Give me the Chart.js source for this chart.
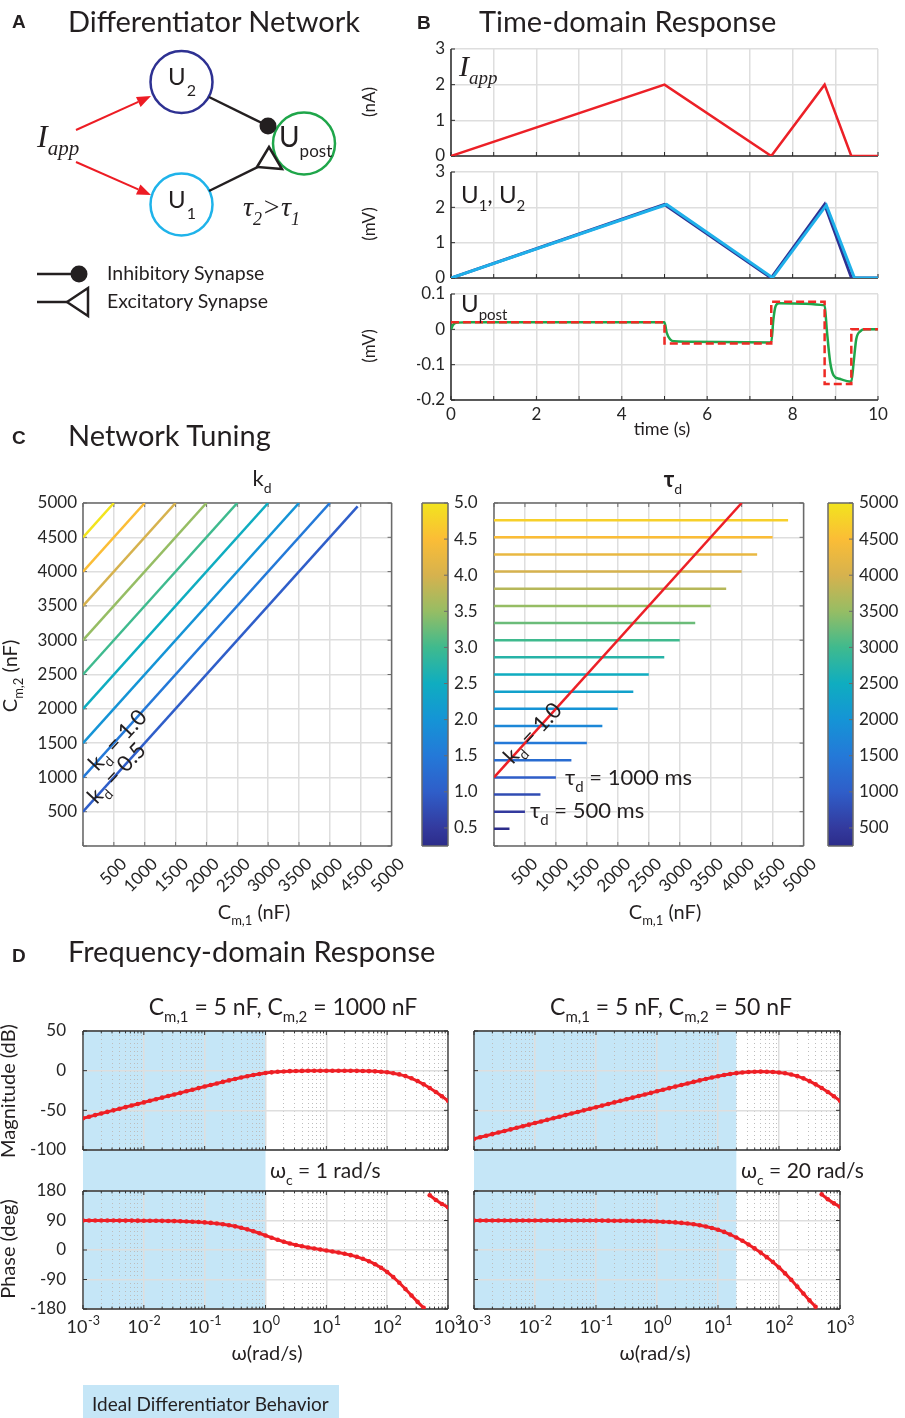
<!DOCTYPE html>
<html><head><meta charset="utf-8">
<script src="https://cdn.jsdelivr.net/npm/chart.js@4.4.1/dist/chart.umd.min.js"></script>
<style>
html,body{margin:0;padding:0;background:#fff;}
#page{position:relative;width:905px;height:1418px;overflow:hidden;background:#fff;}
#page canvas{position:absolute;}
#ov{position:absolute;left:0;top:0;pointer-events:none;}
</style></head><body>
<div id="page">
<svg id="ov" width="905" height="1418" xmlns="http://www.w3.org/2000/svg" font-family="Lato, 'Open Sans', sans-serif" fill="#231f20">
 <g font-family="'Liberation Sans', Arial, sans-serif" font-weight="bold" font-size="19">
  <text x="12" y="28">A</text><text x="417" y="29">B</text><text x="12" y="444">C</text><text x="12" y="962">D</text>
 </g>
 <g font-size="29">
  <text x="68" y="32">Differentiator Network</text>
  <text x="479" y="32">Time-domain Response</text>
  <text x="68" y="446">Network Tuning</text>
  <text x="68" y="962">Frequency-domain Response</text>
 </g>
 <!-- Panel A diagram -->
 <g stroke-width="2">
  <line x1="76" y1="130" x2="138.3" y2="101.9" stroke="#ed1c24"/>
  <line x1="76" y1="162" x2="138.2" y2="189.4" stroke="#ed1c24"/>
 </g>
 <polygon points="151,96 140.6,106.9 136,96.9" fill="#ed1c24"/>
 <polygon points="151,195 136,194.4 140.4,184.4" fill="#ed1c24"/>
 <circle cx="181.5" cy="82" r="31" fill="none" stroke="#2e3192" stroke-width="2.5"/>
 <circle cx="181.5" cy="204.5" r="31" fill="none" stroke="#1fb3ea" stroke-width="2.5"/>
 <circle cx="304" cy="143.5" r="31" fill="none" stroke="#1fa64a" stroke-width="2.5"/>
 <line x1="209" y1="97" x2="264" y2="124" stroke="#231f20" stroke-width="2.5"/>
 <circle cx="268" cy="126" r="8.5" fill="#231f20"/>
 <line x1="209" y1="191" x2="258" y2="167" stroke="#231f20" stroke-width="2.5"/>
 <polygon points="257,167 269,147 282,169" fill="none" stroke="#231f20" stroke-width="2.5" stroke-linejoin="miter"/>
 <text x="168" y="85" font-size="24">U<tspan font-size="16" dx="1" dy="11">2</tspan></text>
 <text x="168" y="208" font-size="24">U<tspan font-size="16" dx="1" dy="11">1</tspan></text>
 <text x="279" y="147" font-size="28">U<tspan font-size="17" dy="10">post</tspan></text>
 <text x="37" y="147" font-family="'Liberation Serif','Times New Roman',serif" font-style="italic" font-size="32">I<tspan font-size="21" dy="8">app</tspan></text>
 <text x="243" y="216" font-family="'Liberation Serif','Times New Roman',serif" font-style="italic" font-size="28">τ<tspan font-size="18" dy="9">2</tspan><tspan dy="-9">&gt;</tspan>τ<tspan font-size="18" dy="9">1</tspan></text>
 <line x1="37" y1="274" x2="72" y2="274" stroke="#231f20" stroke-width="2.5"/>
 <circle cx="79" cy="274" r="8.5" fill="#231f20"/>
 <line x1="37" y1="302" x2="67" y2="302" stroke="#231f20" stroke-width="2.5"/>
 <polygon points="67,302 88,288 88,316" fill="#fff" stroke="#231f20" stroke-width="2.5"/>
 <text x="107" y="280" font-size="19.5">Inhibitory Synapse</text>
 <text x="107" y="308" font-size="19.5">Excitatory Synapse</text>
 <!-- Panel B labels -->
 <g font-size="17">
  <text transform="translate(375,102) rotate(-90)" text-anchor="middle">(nA)</text>
  <text transform="translate(375,224) rotate(-90)" text-anchor="middle">(mV)</text>
  <text transform="translate(375,346) rotate(-90)" text-anchor="middle">(mV)</text>
 </g>
 <text x="459" y="76" font-family="'Liberation Serif','Times New Roman',serif" font-style="italic" font-size="30">I<tspan font-size="19" dy="8">app</tspan></text>
 <text x="461" y="203" font-size="24">U<tspan font-size="15" dy="8">1</tspan><tspan dy="-8">, U</tspan><tspan font-size="15" dy="8">2</tspan></text>
 <text x="461" y="312" font-size="24">U<tspan font-size="15" dy="8">post</tspan></text>
 <text x="662" y="435" font-size="18" text-anchor="middle">time (s)</text>
 <!-- Panel C labels -->
 <text x="262" y="486" font-size="22" text-anchor="middle">k<tspan font-size="14" dy="7">d</tspan></text>
 <text x="673" y="487" font-size="22" text-anchor="middle" font-weight="bold">τ<tspan font-size="14" dy="7" font-weight="normal">d</tspan></text>
 <text transform="translate(17,676) rotate(-90)" text-anchor="middle" font-size="20">C<tspan font-size="13" dy="6">m,2</tspan><tspan dy="-6"> (nF)</tspan></text>
 <text x="254" y="919" text-anchor="middle" font-size="20">C<tspan font-size="13" dy="6">m,1</tspan><tspan dy="-6"> (nF)</tspan></text>
 <text x="665" y="919" text-anchor="middle" font-size="20">C<tspan font-size="13" dy="6">m,1</tspan><tspan dy="-6"> (nF)</tspan></text>
 <g font-size="22">
  <text transform="translate(123,745) rotate(-46.9)" text-anchor="middle">k<tspan font-size="14" dy="6">d</tspan><tspan dy="-6"> = 1.0</tspan></text>
  <text transform="translate(122,778) rotate(-46.9)" text-anchor="middle">k<tspan font-size="14" dy="6">d</tspan><tspan dy="-6"> = 0.5</tspan></text>
  <text transform="translate(538,738) rotate(-46.9)" text-anchor="middle">k<tspan font-size="14" dy="6">d</tspan><tspan dy="-6"> = 1.0</tspan></text>
  <text x="565" y="785">τ<tspan font-size="15" dy="7">d</tspan><tspan dy="-7"> = 1000 ms</tspan></text>
  <text x="530" y="818">τ<tspan font-size="15" dy="7">d</tspan><tspan dy="-7"> = 500 ms</tspan></text>
 </g>
 <!-- Panel D labels -->
 <g font-size="23" text-anchor="middle">
  <text x="283" y="1015">C<tspan font-size="15" dy="7">m,1</tspan><tspan dy="-7"> = 5 nF, C</tspan><tspan font-size="15" dy="7">m,2</tspan><tspan dy="-7"> = 1000 nF</tspan></text>
  <text x="671" y="1015">C<tspan font-size="15" dy="7">m,1</tspan><tspan dy="-7"> = 5 nF, C</tspan><tspan font-size="15" dy="7">m,2</tspan><tspan dy="-7"> = 50 nF</tspan></text>
 </g>
 <g font-size="20" text-anchor="middle">
  <text transform="translate(15,1091) rotate(-90)">Magnitude (dB)</text>
  <text transform="translate(15,1249) rotate(-90)">Phase (deg)</text>
  <text x="267" y="1360">ω(rad/s)</text>
  <text x="655" y="1360">ω(rad/s)</text>
 </g>
 <g font-size="21">
  <text x="270" y="1178">ω<tspan font-size="14" dy="7">c</tspan><tspan dy="-7"> = 1 rad/s</tspan></text>
  <text x="741" y="1178">ω<tspan font-size="14" dy="7">c</tspan><tspan dy="-7"> = 20 rad/s</tspan></text>
 </g>
 <rect x="83" y="1385" width="256" height="33" fill="#c5e6f7"/>
 <text x="92" y="1411" font-size="19">Ideal Differentiator Behavior</text>
</svg>
</div>
<script>
// ---------------- DATA ----------------
// Panel B: time-domain response
const timeTicks = [0,1,2,3,4,5,6,7,8,9,10];
const tIapp = [0, 5, 7.5, 8.75, 9.375, 10];
const vIapp = [0, 2, 0, 2, 0, 0];
const tU1 = [0, 5.05, 7.53, 8.79, 9.45, 10];
const vU1 = [0, 2.08, 0.01, 2.06, 0, 0];
const tU2 = [0, 5.0, 7.5, 8.75, 9.38, 10];
const vU2 = [0, 2.08, 0.0, 2.08, 0, 0];
const tPost = [0, 0.05, 0.15, 0.4, 5.0, 5.05, 5.13, 5.22, 5.5, 7.5, 7.55, 7.6, 7.68, 8.75, 8.8, 8.88, 8.96, 9.1, 9.375, 9.43, 9.49, 9.59, 9.7, 10];
const vPost = [0, 0.013, 0.019, 0.02, 0.02, -0.009, -0.028, -0.034, -0.035, -0.037, 0.028, 0.065, 0.074, 0.068, 0.0, -0.093, -0.13, -0.14, -0.148, -0.093, -0.028, -0.005, 0, 0];
const tDeriv = [0, 5, 5, 7.5, 7.5, 8.75, 8.75, 9.375, 9.375, 10];
const vDeriv = [0.02, 0.02, -0.04, -0.04, 0.078, 0.078, -0.155, -0.155, 0, 0];
const iTicks = [0, 1, 2, 3];
const postTicks = [-0.2, -0.1, 0, 0.1];

// Panel C: network tuning
const cmTicks = [0,500,1000,1500,2000,2500,3000,3500,4000,4500,5000];
const kdLevels = [0.5, 1.0, 1.5, 2.0, 2.5, 3.0, 3.5, 4.0, 4.5];
const kdStartC2 = [500, 1000, 1500, 2000, 2500, 3000, 3500, 4000, 4500];
const kdEndC1 = [4450, 4000, 3500, 3000, 2500, 2000, 1500, 1000, 500];
const kdEndC2 = [4950, 5000, 5000, 5000, 5000, 5000, 5000, 5000, 5000];
const tdLevels = [250,500,750,1000,1250,1500,1750,2000,2250,2500,2750,3000,3250,3500,3750,4000,4250,4500,4750];
const tdEndC1 = [250,500,750,1000,1250,1500,1750,2000,2250,2500,2750,3000,3250,3500,3750,4000,4250,4500,4750];
const kdRefC1 = [0, 4000];
const kdRefC2 = [1000, 5000];
const kdBarTicks = [0.5,1.0,1.5,2.0,2.5,3.0,3.5,4.0,4.5,5.0];
const tdBarTicks = [500,1000,1500,2000,2500,3000,3500,4000,4500,5000];
const kdBarRange = [0.25, 5.0];
const tdBarRange = [250, 5000];

// Panel D: frequency-domain response (Bode)
const logW = [-3.0,-2.9,-2.8,-2.7,-2.6,-2.5,-2.4,-2.3,-2.2,-2.1,-2.0,-1.9,-1.8,-1.7,-1.6,-1.5,-1.4,-1.3,-1.2,-1.1,
 -1.0,-0.9,-0.8,-0.7,-0.6,-0.5,-0.4,-0.3,-0.2,-0.1,0.0,0.1,0.2,0.3,0.4,0.5,0.6,0.7,0.8,0.9,
 1.0,1.1,1.2,1.3,1.4,1.5,1.6,1.7,1.8,1.9,2.0,2.1,2.2,2.3,2.4,2.5,2.6,2.7,2.8,2.9,3.0];
const magA = [-60,-58,-56,-54,-52,-50,-48,-46,-44,-42,-40,-38,-36,-34,-32,-30,-28,-26,-24,-22,
 -20.04,-18.07,-16.11,-14.17,-12.27,-10.41,-8.64,-6.97,-5.46,-4.13,-3.01,-2.13,-1.46,-0.97,-0.64,-0.41,-0.27,-0.18,-0.12,-0.08,
 -0.06,-0.06,-0.07,-0.10,-0.15,-0.23,-0.35,-0.56,-0.87,-1.35,-2.09,-3.17,-4.72,-6.85,-9.64,-13.11,-17.23,-21.88,-26.95,-32.33,-37.92];
const phaseA = [89.94,89.93,89.91,89.89,89.86,89.82,89.77,89.71,89.64,89.55,89.43,89.28,89.09,88.86,88.56,88.19,87.72,87.13,86.39,85.46,
 84.22,82.73,80.88,78.58,75.72,72.22,68.01,63.02,57.30,50.97,44.28,37.56,31.12,25.19,19.90,15.29,11.25,7.69,4.49,1.49,
 -1.45,-4.47,-7.73,-11.39,-15.64,-20.71,-26.81,-34.25,-43.28,-54.22,-67.29,-82.58,-99.97,-118.94,-138.70,-158.23,-176.63,166.88,152.55,140.50,130.56];
const magB = [-86.02,-84.02,-82.02,-80.02,-78.02,-76.02,-74.02,-72.02,-70.02,-68.02,-66.02,-64.02,-62.02,-60.02,-58.02,-56.02,-54.02,-52.02,-50.02,-48.02,
 -46.02,-44.02,-42.02,-40.02,-38.02,-36.02,-34.02,-32.02,-30.02,-28.02,-26.02,-24.04,-22.05,-20.06,-18.09,-16.13,-14.19,-12.29,-10.43,-8.67,
 -7.01,-5.51,-4.19,-3.11,-2.27,-1.69,-1.33,-1.20,-1.29,-1.62,-2.26,-3.28,-4.79,-6.89,-9.67,-13.13,-17.24,-21.89,-26.96,-32.33,-37.92];
const phaseB = [90.00,90.00,90.00,90.00,89.99,89.99,89.99,89.99,89.99,89.98,89.98,89.97,89.97,89.96,89.94,89.93,89.91,89.89,89.86,89.82,
 89.71,89.63,89.54,89.42,89.27,89.07,88.83,88.54,88.16,87.68,87.08,86.33,85.38,84.18,82.68,80.81,78.44,75.50,71.84,67.32,
 61.80,55.15,47.29,38.24,28.07,16.91,4.90,-7.97,-21.79,-36.82,-53.29,-71.37,-91.01,-111.80,-133.02,-153.71,-173.03,169.74,154.82,142.30,131.99];
const omegaCutA = 1;
const omegaCutB = 20;
const decadeExps = [-3,-2,-1,0,1,2,3];
const magTicks = [-100, -50, 0, 50];
const phaseTicks = [-180, -90, 0, 90, 180];

// ---------------- STYLE ----------------
const SANS = 'Lato, "Open Sans", sans-serif';
const TXT = '#262626';
const GRID = '#dedede';
const SHADE = '#c5e6f7';
Chart.defaults.font.family = SANS;
Chart.defaults.color = TXT;
const parulaStops = [[0,'#2c2c8a'],[0.053,'#333a9e'],[0.158,'#2f5ec9'],[0.263,'#2479d8'],[0.368,'#1594d6'],[0.474,'#0fadc0'],[0.579,'#3fba8e'],[0.684,'#96bd64'],[0.789,'#d6b24e'],[0.895,'#fbbd36'],[1,'#f2e41e']];
function hex(h){ return [1,3,5].map(i=>parseInt(h.substr(i,2),16)); }
function parula(f){
  f = Math.max(0, Math.min(1, f));
  for (let i = 1; i < parulaStops.length; i++) {
    if (f <= parulaStops[i][0]) {
      const [f0,c0] = parulaStops[i-1], [f1,c1] = parulaStops[i];
      const u = (f - f0) / (f1 - f0), a = hex(c0), b = hex(c1);
      return 'rgb(' + a.map((v,k)=>Math.round(v + (b[k]-v)*u)).join(',') + ')';
    }
  }
  return parulaStops[parulaStops.length-1][1];
}
const isDecade = v => Math.abs(Math.log10(v) - Math.round(Math.log10(v))) < 1e-6;
const logTickVals = [];
decadeExps.forEach(e => { if (e < 3) { for (let m = 1; m <= 9; m++) logTickVals.push(m * Math.pow(10, e)); } else logTickVals.push(Math.pow(10, e)); });
const pts = (xs, ys) => xs.map((x, i) => ({x, y: ys[i]}));
const setTicks = arr => (s => { s.ticks = arr.map(v => ({value: v})); });

// ---------------- PLUGINS ----------------
function drawFrame(chart, o) {
  const ctx = chart.ctx, a = chart.chartArea;
  const xs = chart.scales.x, ys = chart.scales.y;
  ctx.save();
  const L = o.tickLen || 4;
  ctx.strokeStyle = o.color; ctx.lineWidth = 1;
  ctx.beginPath();
  if (o.xTicks && xs) xs.ticks.forEach(t => {
    const p = xs.getPixelForValue(t.value);
    const len = (o.log && !isDecade(t.value)) ? L * 0.6 : L;
    ctx.moveTo(p, a.bottom); ctx.lineTo(p, a.bottom - len);
    if (o.box) { ctx.moveTo(p, a.top); ctx.lineTo(p, a.top + len); }
  });
  if (o.yTicks && ys) ys.ticks.forEach(t => {
    const p = ys.getPixelForValue(t.value);
    if (o.yTicks !== 'r') { ctx.moveTo(a.left, p); ctx.lineTo(a.left + L, p); }
    if (o.box || o.yTicks === 'r') { ctx.moveTo(a.right, p); ctx.lineTo(a.right - L, p); }
  });
  ctx.stroke();
  ctx.strokeStyle = o.color; ctx.lineWidth = o.width;
  ctx.beginPath();
  const s = o.sides;
  if (s.includes('l')) { ctx.moveTo(a.left, a.top); ctx.lineTo(a.left, a.bottom); }
  if (s.includes('b')) { ctx.moveTo(a.left, a.bottom); ctx.lineTo(a.right, a.bottom); }
  if (s.includes('t')) { ctx.moveTo(a.left, a.top); ctx.lineTo(a.right, a.top); }
  if (s.includes('r')) { ctx.moveTo(a.right, a.top); ctx.lineTo(a.right, a.bottom); }
  ctx.stroke();
  ctx.restore();
}
const framePlugin = {
  id: 'frame',
  beforeDatasetsDraw(chart, args, o) { if (o && o.sides && !o.after) drawFrame(chart, o); },
  afterDatasetsDraw(chart, args, o) { if (o && o.sides && o.after) drawFrame(chart, o); }
};
const shadePlugin = {
  id: 'shade',
  beforeDraw(chart, args, o) {
    if (!o || !o.x1) return;
    const a = chart.chartArea, xs = chart.scales.x, ctx = chart.ctx;
    const p0 = xs.getPixelForValue(o.x0), p1 = xs.getPixelForValue(o.x1);
    ctx.save(); ctx.fillStyle = SHADE;
    ctx.fillRect(p0, a.top, p1 - p0, a.bottom - a.top + (o.extend || 0));
    ctx.restore();
  }
};
const expPlugin = {
  id: 'expTicks',
  afterDraw(chart, args, o) {
    if (!o || !o.on) return;
    const ctx = chart.ctx, xs = chart.scales.x, a = chart.chartArea;
    ctx.save(); ctx.fillStyle = TXT; ctx.textBaseline = 'alphabetic'; ctx.textAlign = 'left';
    decadeExps.forEach(e => {
      const x = xs.getPixelForValue(Math.pow(10, e));
      const base = '10', ex = String(e);
      ctx.font = '18px ' + SANS; const wb = ctx.measureText(base).width;
      ctx.font = '12.5px ' + SANS; const we = ctx.measureText(ex).width;
      const x0 = x - (wb + we) / 2, y = a.bottom + 24;
      ctx.font = '18px ' + SANS; ctx.fillText(base, x0, y);
      ctx.font = '12.5px ' + SANS; ctx.fillText(ex, x0 + wb + 0.5, y - 8);
    });
    ctx.restore();
  }
};

// ---------------- BUILDER ----------------
const page = document.getElementById('page');
const ov = document.getElementById('ov');
function build(id, plot, g, config) {
  const padL = g.padL || 0, padR = g.padR || 0, padT = 32;
  const left = g.yRight ? plot.l - padL : plot.l - g.yW;
  const width = g.yRight ? padL + plot.w + g.yW : g.yW + plot.w + padR;
  const height = padT + plot.h + g.xH;
  const c = document.createElement('canvas');
  c.id = id; c.width = width; c.height = height;
  c.style.left = left + 'px'; c.style.top = (plot.t - padT) + 'px';
  c.style.width = width + 'px'; c.style.height = height + 'px';
  page.insertBefore(c, ov);
  const o = config.options;
  o.responsive = false; o.maintainAspectRatio = false; o.animation = false; o.devicePixelRatio = 1;
  o.layout = {padding: g.yRight ? {left: padL, top: padT, right: 0, bottom: 0} : {left: 0, top: padT, right: padR, bottom: 0}};
  o.plugins = Object.assign({legend: {display: false}, tooltip: {enabled: false}}, o.plugins || {});
  if (o.scales.x) o.scales.x.afterFit = s => { s.height = g.xH; };
  if (o.scales.y) o.scales.y.afterFit = s => { s.width = g.yW; };
  config.plugins = [framePlugin, shadePlugin, expPlugin];
  return new Chart(c, config);
}
const tickFont = {family: SANS, size: 17};
const gridOpt = {color: GRID, lineWidth: 1.5, drawTicks: false};

// ---------------- PANEL B ----------------
function timeChart(id, plot, yW, xH, yMin, yMax, yTicks, datasets, showX) {
  return build(id, plot, {yW, xH, padR: 14}, {
    type: 'scatter',
    data: {datasets},
    options: {
      scales: {
        x: {type: 'linear', min: 0, max: 10, afterBuildTicks: setTicks(timeTicks), grid: gridOpt, border: {display: false},
            ticks: {display: showX, font: {family: SANS, size: 17}, padding: 4, maxRotation: 0, autoSkip: false, callback: v => (v % 2 === 0 ? String(v) : '')}},
        y: {min: yMin, max: yMax, afterBuildTicks: setTicks(yTicks), grid: gridOpt, border: {display: false},
            ticks: {font: tickFont, padding: 6, callback: v => String(v)}}
      },
      plugins: {frame: {sides: 'lb', color: '#2b2b2b', width: 1.5, xTicks: true, yTicks: true, tickLen: 4}}
    }
  });
}
timeChart('b1', {l: 451, t: 49, w: 427, h: 107}, 22, 20, 0, 3, iTicks, [
  {data: pts(tIapp, vIapp), showLine: true, borderColor: '#ec2027', borderWidth: 2.5, pointRadius: 0}
], false);
timeChart('b2', {l: 451, t: 172, w: 427, h: 106}, 22, 20, 0, 3, iTicks, [
  {data: pts(tU1, vU1), showLine: true, borderColor: '#1fb0ea', borderWidth: 3, pointRadius: 0},
  {data: pts(tU2, vU2), showLine: true, borderColor: '#2e3192', borderWidth: 3, pointRadius: 0}
], false);
timeChart('b3', {l: 451, t: 294, w: 427, h: 106}, 34, 28, -0.2, 0.1, postTicks, [
  {data: pts(tDeriv, vDeriv), showLine: true, borderColor: '#ee2a24', borderWidth: 2.5, borderDash: [8, 4], pointRadius: 0},
  {data: pts(tPost, vPost), showLine: true, borderColor: '#1fa64a', borderWidth: 2.5, pointRadius: 0, cubicInterpolationMode: 'monotone'}
], true);

// ---------------- PANEL C ----------------
function tuneChart(id, plot, yW, showY, datasets) {
  return build(id, plot, {yW, xH: 70, padR: 10}, {
    type: 'scatter',
    data: {datasets},
    options: {
      scales: {
        x: {min: 0, max: 5000, afterBuildTicks: setTicks(cmTicks), grid: gridOpt, border: {display: false},
            ticks: {font: tickFont, padding: 8, labelOffset: 10, minRotation: 45, maxRotation: 45, autoSkip: false, callback: v => (v === 0 ? '' : String(v))}},
        y: {min: 0, max: 5000, afterBuildTicks: setTicks(cmTicks), grid: gridOpt, border: {display: false},
            ticks: {display: showY, font: tickFont, padding: 6, autoSkip: false, callback: v => (v === 0 ? '' : String(v))}}
      },
      plugins: {frame: {sides: 'lbtr', box: true, color: '#6a6a6a', width: 1.5, xTicks: true, yTicks: true, tickLen: 4}}
    }
  });
}
const kdSets = kdLevels.map((k, i) => ({
  data: [{x: 0, y: kdStartC2[i]}, {x: kdEndC1[i], y: kdEndC2[i]}], showLine: true, pointRadius: 0,
  borderColor: parula((k + 0.5 - kdBarRange[0]) / (kdBarRange[1] - kdBarRange[0])), borderWidth: 2.5
}));
tuneChart('c1', {l: 83, t: 503, w: 321, h: 343}, 80, true, kdSets);
const tdSets = [{data: pts(kdRefC1, kdRefC2), showLine: true, pointRadius: 0, borderColor: '#ec2027', borderWidth: 2.5}].concat(
  tdLevels.map((v, i) => ({
    data: [{x: 0, y: v}, {x: tdEndC1[i], y: v}], showLine: true, pointRadius: 0,
    borderColor: parula((v - tdBarRange[0]) / (tdBarRange[1] - tdBarRange[0])), borderWidth: 2.5
  })));
tuneChart('c2', {l: 494, t: 503, w: 322, h: 343}, 14, false, tdSets);

function colorbar(id, plot, yW, range, ticks, fmt) {
  return build(id, plot, {yRight: true, yW, padL: 4, xH: 22}, {
    type: 'bar',
    data: {labels: [''], datasets: [{data: [range], barPercentage: 1, categoryPercentage: 1, borderWidth: 0,
      backgroundColor: ctx => {
        const a = ctx.chart.chartArea; if (!a) return '#888';
        const gr = ctx.chart.ctx.createLinearGradient(0, a.bottom, 0, a.top);
        parulaStops.forEach(([f, c]) => gr.addColorStop(f, c));
        return gr;
      }}]},
    options: {
      scales: {
        x: {display: false},
        y: {position: 'right', min: range[0], max: range[1], afterBuildTicks: setTicks(ticks), grid: {display: false, drawTicks: false}, border: {display: false},
            ticks: {font: tickFont, padding: 6, autoSkip: false, callback: fmt}}
      },
      plugins: {frame: {sides: 'lbtr', after: true, color: '#6a6a6a', width: 1.5, yTicks: 'r', tickLen: 4}}
    }
  });
}
colorbar('cb1', {l: 422, t: 503, w: 26, h: 343}, 40, kdBarRange, kdBarTicks, v => v.toFixed(1));
colorbar('cb2', {l: 828, t: 503, w: 25, h: 343}, 52, tdBarRange, tdBarTicks, v => String(v));

// ---------------- PANEL D ----------------
function bodeChart(id, plot, yW, xH, yMin, yMax, yTicks, values, cut, extend, showY, expLabels) {
  const red = '#ee1f25';
  return build(id, plot, {yW, xH, padR: 20}, {
    type: 'scatter',
    data: {datasets: [{
      data: logW.map((e, i) => ({x: Math.pow(10, e), y: values[i]})), showLine: true,
      borderColor: red, borderWidth: 3, pointRadius: 2.3, pointBackgroundColor: red, pointBorderWidth: 0,
      segment: {borderColor: c => (Math.abs(c.p1.parsed.y - c.p0.parsed.y) > 180 ? 'rgba(0,0,0,0)' : red)}
    }]},
    options: {
      scales: {
        x: {type: 'logarithmic', min: 1e-3, max: 1e3, afterBuildTicks: setTicks(logTickVals),
            grid: {drawTicks: false, color: c => (c.tick && isDecade(c.tick.value) ? GRID : '#bdbdbd'), lineWidth: c => (c.tick && isDecade(c.tick.value) ? 1.5 : 1)},
            border: {display: false, dash: c => (c.tick && !isDecade(c.tick.value) ? [1, 3] : [])},
            ticks: {display: false, autoSkip: false}},
        y: {min: yMin, max: yMax, afterBuildTicks: setTicks(yTicks), grid: gridOpt, border: {display: false},
            ticks: {display: showY, font: tickFont, padding: 17, autoSkip: false, callback: v => String(v)}}
      },
      plugins: {
        frame: {sides: 'lbtr', box: true, log: true, color: '#333333', width: 1.3, xTicks: true, yTicks: true, tickLen: 4},
        shade: {x0: 1e-3, x1: cut, extend},
        expTicks: {on: expLabels}
      }
    }
  });
}
bodeChart('dm1', {l: 83, t: 1031, w: 365, h: 119}, 70, 41, -100, 50, magTicks, magA, omegaCutA, 41, true, false);
bodeChart('dp1', {l: 83, t: 1191, w: 365, h: 118}, 70, 40, -180, 180, phaseTicks, phaseA, omegaCutA, 0, true, true);
bodeChart('dm2', {l: 474, t: 1031, w: 366, h: 119}, 20, 41, -100, 50, magTicks, magB, omegaCutB, 41, false, false);
bodeChart('dp2', {l: 474, t: 1191, w: 366, h: 118}, 20, 40, -180, 180, phaseTicks, phaseB, omegaCutB, 0, false, true);
</script>
</body></html>
